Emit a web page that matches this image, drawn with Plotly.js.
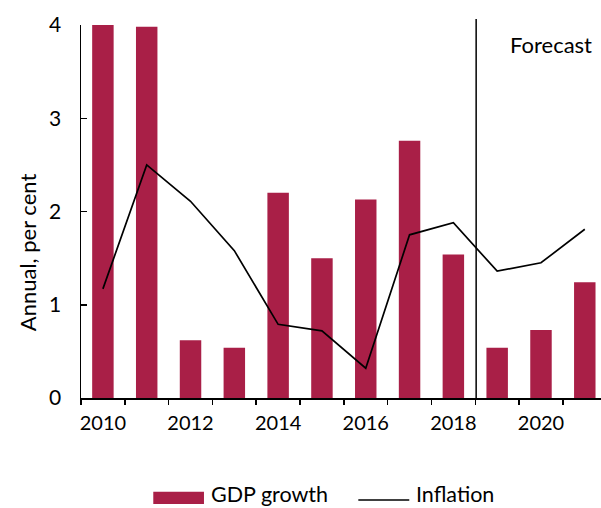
<!DOCTYPE html>
<html>
<head>
<meta charset="utf-8">
<script src="https://cdn.plot.ly/plotly-3.0.1.min.js"></script>
<style>
    html, body { margin: 0; padding: 0; background: #fff; }
    #plot { width: 601px; height: 508px; }
</style>
</head>
<body>
<div id="plot"></div>
<script>
// Chart data
let years = ["2010", "2011", "2012", "2013", "2014", "2015", "2016", "2017", "2018", "2019", "2020", "2021"];
let gdpGrowth = [4.0, 3.98, 0.62, 0.54, 2.2, 1.5, 2.13, 2.76, 1.54, 0.54, 0.73, 1.24];
let inflation = [1.17, 2.5, 2.11, 1.58, 0.79, 0.72, 0.32, 1.75, 1.88, 1.36, 1.45, 1.81];
let yearLabels = ["2010", "", "2012", "", "2014", "", "2016", "", "2018", "", "2020", ""];

let fontFamily = "Lato, 'Open Sans', sans-serif";
let barColor = "#a91f47";

// Bars for GDP growth
let gdpTrace = {
    x: years,
    y: gdpGrowth,
    type: "bar",
    name: "GDP growth",
    width: 0.49,
    marker: { color: barColor },
    showlegend: false,
    hoverinfo: "skip"
};

// Line for inflation
let inflationTrace = {
    x: years,
    y: inflation,
    type: "scatter",
    mode: "lines",
    name: "Inflation",
    line: { color: "#000", width: 1.7 },
    showlegend: false,
    hoverinfo: "skip"
};

let layout = {
    width: 601,
    height: 508,
    margin: { l: 81, r: 0, t: 25, b: 110 },
    paper_bgcolor: "#fff",
    plot_bgcolor: "#fff",
    font: { family: fontFamily, size: 20, color: "#000" },
    xaxis: {
        type: "category",
        range: [-0.5, 11.37],
        tickvals: years,
        ticktext: yearLabels,
        tickson: "boundaries",
        tickangle: 0,
        ticks: "outside",
        ticklen: 5,
        tickwidth: 1.5,
        tickcolor: "#000",
        ticklabelstandoff: 6,
        showline: true,
        linecolor: "#000",
        linewidth: 1.5,
        showgrid: false,
        zeroline: false,
        tickfont: { size: 20 }
    },
    yaxis: {
        range: [0, 4],
        dtick: 1,
        ticks: "inside",
        ticklen: 6,
        tickwidth: 1.5,
        tickcolor: "#000",
        ticklabelstandoff: 14,
        showline: true,
        linecolor: "#000",
        linewidth: 1.5,
        showgrid: false,
        zeroline: false,
        tickfont: { size: 21 }
    },
    shapes: [
        // forecast divider
        {
            type: "line",
            xref: "x", yref: "paper",
            x0: 8.52, x1: 8.52, y0: 0, y1: 1.016,
            line: { color: "#000", width: 1.5 }
        },
        // legend: bar swatch
        {
            type: "rect",
            xref: "paper", yref: "paper",
            x0: 0.139, x1: 0.2365, y0: -0.284, y1: -0.2514,
            fillcolor: barColor,
            line: { width: 0 }
        },
        // legend: line sample
        {
            type: "line",
            xref: "paper", yref: "paper",
            x0: 0.5333, x1: 0.6313, y0: -0.2735, y1: -0.2735,
            line: { color: "#000", width: 1.7 }
        }
    ],
    annotations: [
        {
            text: "Forecast",
            xref: "paper", yref: "paper",
            x: 0.903, y: 0.949,
            xanchor: "center", yanchor: "middle",
            showarrow: false,
            font: { size: 22 }
        },
        {
            text: "Annual, per cent",
            xref: "paper", yref: "paper",
            x: -0.1038, y: 0.391,
            xanchor: "center", yanchor: "middle",
            textangle: -90,
            showarrow: false,
            font: { size: 22 }
        },
        {
            text: "GDP growth",
            xref: "paper", yref: "paper",
            x: 0.246, y: -0.2574,
            xanchor: "left", yanchor: "middle",
            showarrow: false,
            font: { size: 21.5 }
        },
        {
            text: "Inflation",
            xref: "paper", yref: "paper",
            x: 0.64, y: -0.2574,
            xanchor: "left", yanchor: "middle",
            showarrow: false,
            font: { size: 21.5 }
        }
    ]
};

Plotly.newPlot("plot", [gdpTrace, inflationTrace], layout, { staticPlot: true });
</script>
</body>
</html>
